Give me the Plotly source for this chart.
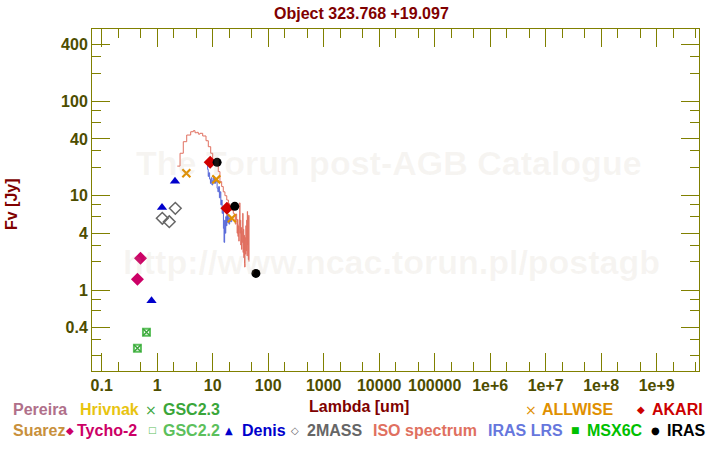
import plotly.graph_objects as go

# ---------------- data ----------------
tycho_wl = [0.44, 0.50]
tycho_fx = [1.30, 2.17]

gsc23_wl = [0.44, 0.64]
gsc23_fx = [0.241, 0.356]
gsc22_wl = [0.44, 0.64]
gsc22_fx = [0.241, 0.356]

denis_wl = [0.79, 1.22, 2.09]
denis_fx = [0.77, 7.5, 14.2]

twomass_wl = [1.235, 1.65, 2.12]
twomass_fx = [5.76, 5.30, 7.35]

allwise_wl = [3.35, 11.6, 22.1]
allwise_fx = [17.3, 14.9, 5.76]

akari_wl = [9.0, 18.0]
akari_fx = [22.6, 7.35]

iras_wl = [12.0, 25.0, 60.0]
iras_fx = [22.6, 7.72, 1.50]

iso_wl = [2.30, 2.58, 2.95, 3.40, 4.01, 4.47, 4.8, 5.15, 5.5, 5.90, 6.60, 7.57, 8.33,
          9.20, 10.0, 11.0, 12.6, 13.5, 14.5, 15.5, 16.6, 17.9, 19.2, 20.5, 22.0, 23.5,
          24.5, 25.5, 26.2, 27.0, 27.5, 28.0, 28.5, 29.0, 29.5, 30.0, 30.6, 31.0, 31.5,
          32.0, 32.5, 33.0, 33.5, 34.0, 34.7, 35.2, 35.8, 36.3, 36.9, 37.4, 37.7, 38.2,
          38.8, 39.5, 40.2, 41.0, 41.5, 42.0, 42.5, 43.2, 43.8, 44.5, 45.0]
iso_fx = [20.6, 28.2, 37.4, 44.0, 47.7, 48.9, 46.5, 47.0, 45.0, 45.9, 43.0, 38.3, 33.1,
          28.2, 23.9, 21.2, 18.0, 14.1, 12.5, 11.0, 10.0, 9.0, 8.2, 7.64, 7.0, 6.5,
          6.2, 5.0, 6.4, 5.5, 4.0, 5.6, 3.7, 4.8, 3.3, 5.0, 8.4, 4.0, 5.5,
          3.0, 4.6, 2.7, 4.2, 3.2, 6.5, 2.5, 4.4, 2.2, 3.8, 1.9, 1.75, 3.6,
          2.4, 4.8, 2.6, 5.5, 2.3, 6.8, 3.0, 5.9, 2.1, 6.2, 2.0]

lrs_wl = [7.9, 8.1, 8.3, 8.5, 8.8, 9.1, 9.4, 9.7, 10.0, 10.4, 10.8, 11.2, 11.6, 12.0,
          12.4, 12.8, 13.2, 13.6, 14.0, 14.4, 14.8, 15.2, 15.6, 16.0, 16.4, 16.8, 17.2,
          17.6, 18.0, 18.5, 19.0, 19.6, 20.2, 21.0, 22.0]
lrs_fx = [24.0, 19.0, 16.0, 17.5, 15.0, 13.5, 15.5, 13.0, 14.5, 16.0, 13.5, 15.0, 14.0, 12.0,
          11.0, 12.5, 9.5, 11.0, 8.0, 9.0, 6.5, 7.5, 4.5, 3.2, 5.5, 4.0, 6.0,
          4.8, 6.3, 5.2, 6.0, 5.0, 5.8, 5.3, 5.6]

x_tickvals = [0.1, 1, 10, 100, 1000, 1e4, 1e5, 1e6, 1e7, 1e8, 1e9]
x_ticktext = ["0.1", "1", "10", "100", "1000", "10000", "100000", "1e+6", "1e+7", "1e+8", "1e+9"]
x_minorvals = [m * 10.0 ** e for e in range(-2, 10) for m in (2, 5)]

y_tickvals = [0.4, 1, 4, 10, 40, 100, 400]
y_ticktext = ["0.4", "1", "4", "10", "40", "100", "400"]
y_minorvals = [0.2, 0.3, 0.6, 0.8, 2, 3, 6, 8, 20, 30, 60, 80, 200, 300]

# ---------------- figure ----------------
W, H = 720, 450
L, R, T, B = 92, 21, 29, 79
FONT = "Liberation Sans, Arial, sans-serif"
AXIS = "#808000"
TICKTXT = "#4d4d00"
MAROON = "#800000"

fig = go.Figure()

fig.add_trace(go.Scatter(x=iso_wl, y=iso_fx, mode="lines",
                         line=dict(color="#e07060", width=1, shape="hv"), name="ISO spectrum"))
fig.add_trace(go.Scatter(x=lrs_wl, y=lrs_fx, mode="lines",
                         line=dict(color="#5566d8", width=1, shape="hv"), name="IRAS LRS"))

fig.add_trace(go.Scatter(x=gsc22_wl, y=gsc22_fx, mode="markers", name="GSC2.2",
                         marker=dict(symbol="square-open", size=7, color="#5cc05c",
                                     line=dict(width=2, color="#5cc05c"))))
fig.add_trace(go.Scatter(x=gsc23_wl, y=gsc23_fx, mode="markers", name="GSC2.3",
                         marker=dict(symbol="x-thin", size=7, color="#3aa63a",
                                     line=dict(width=1.5, color="#3aa63a"))))
fig.add_trace(go.Scatter(x=tycho_wl, y=tycho_fx, mode="markers", name="Tycho-2",
                         marker=dict(symbol="diamond", size=10, color="#cc0066")))
fig.add_trace(go.Scatter(x=denis_wl, y=denis_fx, mode="markers", name="Denis",
                         marker=dict(symbol="triangle-up", size=9, color="#0000cc")))
fig.add_trace(go.Scatter(x=twomass_wl, y=twomass_fx, mode="markers", name="2MASS",
                         marker=dict(symbol="diamond-open", size=9, color="#666666",
                                     line=dict(width=1.5, color="#666666"))))
fig.add_trace(go.Scatter(x=allwise_wl, y=allwise_fx, mode="markers", name="ALLWISE",
                         marker=dict(symbol="x-thin", size=8, color="#e09000",
                                     line=dict(width=2.2, color="#e09000"))))
fig.add_trace(go.Scatter(x=akari_wl, y=akari_fx, mode="markers", name="AKARI",
                         marker=dict(symbol="diamond", size=10, color="#d00000")))
fig.add_trace(go.Scatter(x=iras_wl, y=iras_fx, mode="markers", name="IRAS",
                         marker=dict(symbol="circle", size=9, color="#000000")))

axis_common = dict(showline=True, linecolor=AXIS, linewidth=1, mirror="ticks",
                   ticks="inside", ticklen=18, tickcolor=AXIS, tickwidth=1,
                   showgrid=False, zeroline=False,
                   tickfont=dict(family=FONT, size=16, color=TICKTXT, weight="bold"))

fig.update_xaxes(type="log", range=[-1.175, 9.762], tickmode="array",
                 tickvals=x_tickvals, ticktext=x_ticktext,
                 minor=dict(tickmode="array", tickvals=x_minorvals, ticks="inside",
                            ticklen=9, tickcolor=AXIS, tickwidth=1, showgrid=False),
                 **axis_common)
fig.update_yaxes(type="log", range=[-0.859, 2.768], tickmode="array",
                 tickvals=y_tickvals, ticktext=y_ticktext,
                 minor=dict(tickmode="array", tickvals=y_minorvals, ticks="inside",
                            ticklen=9, tickcolor=AXIS, tickwidth=1, showgrid=False),
                 **axis_common)


def px(x):
    return (x - L) / (W - L - R)


def py(y):
    return (H - B - y) / (H - T - B)


ann = []
# watermark
ann.append(dict(text="The Torun post-AGB Catalogue", x=px(389), y=py(163), xref="paper", yref="paper",
                showarrow=False, xanchor="center", yanchor="middle",
                font=dict(family=FONT, size=34, color="rgba(190,170,150,0.12)", weight="bold")))
ann.append(dict(text="http://www.ncac.torun.pl/postagb", x=px(391), y=py(262), xref="paper", yref="paper",
                showarrow=False, xanchor="center", yanchor="middle",
                font=dict(family=FONT, size=34, color="rgba(190,170,150,0.12)", weight="bold")))
# title & axis titles
ann.append(dict(text="Object 323.768 +19.097", x=px(361), y=py(13), xref="paper", yref="paper",
                showarrow=False, xanchor="center", yanchor="middle",
                font=dict(family=FONT, size=16, color=MAROON, weight="bold")))
ann.append(dict(text="Lambda [um]", x=px(359), y=py(406), xref="paper", yref="paper",
                showarrow=False, xanchor="center", yanchor="middle",
                font=dict(family=FONT, size=16, color=MAROON, weight="bold")))
ann.append(dict(text="Fv [Jy]", x=px(11), y=py(204), xref="paper", yref="paper", textangle=-90,
                showarrow=False, xanchor="center", yanchor="middle",
                font=dict(family=FONT, size=16, color=MAROON, weight="bold")))

# legend (glyph, glyph centre x, label, label left x, row y, colour, glyph size)
legend_items = [
    (None, 0, "Pereira", 11, 410, "#b0708a", 0),
    (None, 0, "Hrivnak", 77.5, 410, "#e8c410", 0),
    ("×", 150.5, "GSC2.3", 161, 410, "#3aa63a", 14),
    ("×", 530.5, "ALLWISE", 540, 410, "#e09000", 14),
    ("◆", 641, "AKARI", 649.5, 410, "#cc0000", 10),
    (None, 0, "Suarez", 11, 430, "#c8903c", 0),
    ("◆", 70, "Tycho-2", 75, 430, "#cc0066", 10),
    ("□", 152.5, "GSC2.2", 161, 430, "#5cc05c", 9),
    ("▲", 229, "Denis", 240, 430, "#0000cc", 10),
    ("◇", 294.5, "2MASS", 305, 430, "#666666", 10),
    (None, 0, "ISO spectrum", 370.5, 430, "#e07060", 0),
    (None, 0, "IRAS LRS", 485.5, 430, "#6677dd", 0),
    ("■", 575.5, "MSX6C", 585, 430, "#00c000", 9),
    ("●", 655, "IRAS", 665, 430, "#000000", 10),
]
for g, gx, lab, lx, ry, col, gs in legend_items:
    if g:
        ann.append(dict(text=g, x=px(gx), y=py(ry), xref="paper", yref="paper",
                        showarrow=False, xanchor="center", yanchor="middle",
                        font=dict(family="DejaVu Sans", size=gs, color=col)))
    ann.append(dict(text=lab, x=px(lx), y=py(ry), xref="paper", yref="paper",
                    showarrow=False, xanchor="left", yanchor="middle",
                    font=dict(family=FONT, size=16, color=col, weight="bold")))

fig.update_layout(width=W, height=H, margin=dict(l=L, r=R, t=T, b=B, pad=0),
                  paper_bgcolor="white", plot_bgcolor="white", showlegend=False,
                  hovermode=False, annotations=ann)

fig.write_html("out.html", config={"displayModeBar": False, "staticPlot": True},
               post_script="document.body.style.margin='0';document.body.style.padding='0';")
